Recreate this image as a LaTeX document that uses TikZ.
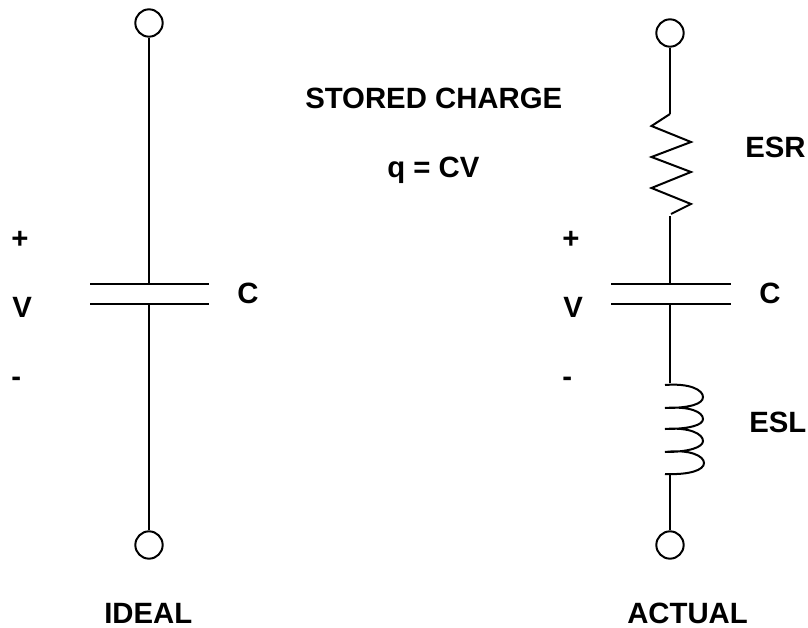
\documentclass[tikz,border=0pt]{standalone}
\usepackage{fontspec}
\setmainfont{Liberation Sans}
\tikzset{
  x=0.75pt,y=-0.75pt,
  wire/.style={line width=1.5pt,black},
  term/.style={circle,draw,line width=1.5pt,minimum size=20.5pt,inner sep=0pt},
  lab/.style={font=\fontsize{22}{24}\selectfont\bfseries,inner sep=0pt,anchor=base west}
}
\begin{document}
\begin{tikzpicture}
\useasboundingbox (0,0) rectangle (808,628);
% ideal
\node[term] (t1) at (149,23) {};
\node[term] (b1) at (149,545) {};
\coordinate (p1t) at (149,284);
\coordinate (p1b) at (149,304);
\coordinate (p1tl) at (90,284);
\coordinate (p1tr) at (209,284);
\coordinate (p1bl) at (90,304);
\coordinate (p1br) at (209,304);
\draw[wire] (t1) -- (p1t);
\draw[wire] (p1b) -- (b1);
\draw[wire] (p1tl) -- (p1tr);
\draw[wire] (p1bl) -- (p1br);
% actual
\node[term] (t2) at (670,33) {};
\node[term] (b2) at (670,545) {};
\coordinate (r1) at (670,114);
\coordinate (r2) at (671,214);
\coordinate (r3) at (670,216);
\coordinate (p2t) at (670,284);
\coordinate (p2b) at (670,304);
\coordinate (l1) at (670,383);
\coordinate (l2) at (670,473);
\draw[wire] (t2) -- (r1);
\draw[wire] (r1) -- (651.5,126) -- (691,142) -- (651.5,157) -- (691,172) -- (651.5,188) -- (691,204) -- (r2);
\draw[wire] (r3) -- (p2t);
\draw[wire] (611,284) -- (731,284);
\draw[wire] (611,304) -- (731,304);
\draw[wire] (p2b) -- (l1);
\draw[wire] (l2) -- (b2);
\draw[wire] (665,385) .. controls (690,383) and (703,390) .. (703,397) .. controls (703,404) and (690,408) .. (665,408)
 .. controls (690,406) and (703,412) .. (703,419) .. controls (703,425) and (690,429) .. (665,429)
 .. controls (690,427) and (703,434) .. (703,441) .. controls (703,447) and (690,452) .. (665,452)
 .. controls (690,449) and (704,456) .. (704,463) .. controls (704,470) and (690,475) .. (665,474);
% labels
\node[lab] (a) at (305,108) {STORED CHARGE};
\node[lab] (b) at (387,177) {q = CV};
\node[lab] (c) at (745,157) {ESR};
\node[lab] (d) at (759,303) {C};
\node[lab] (e) at (749,432) {ESL};
\node[lab] (f) at (562,248) {+};
\node[lab] (g) at (563,317) {V};
\node[lab] (h) at (562,386) {-};
\node[lab] (i) at (11,248) {+};
\node[lab] (j) at (12,317) {V};
\node[lab] (k) at (11,386) {-};
\node[lab] (m) at (237,303) {C};
\node[lab] (n) at (104,623.5) {IDEAL};
\node[lab] (o) at (627,623.5) {ACTUAL};
\end{tikzpicture}
\end{document}
